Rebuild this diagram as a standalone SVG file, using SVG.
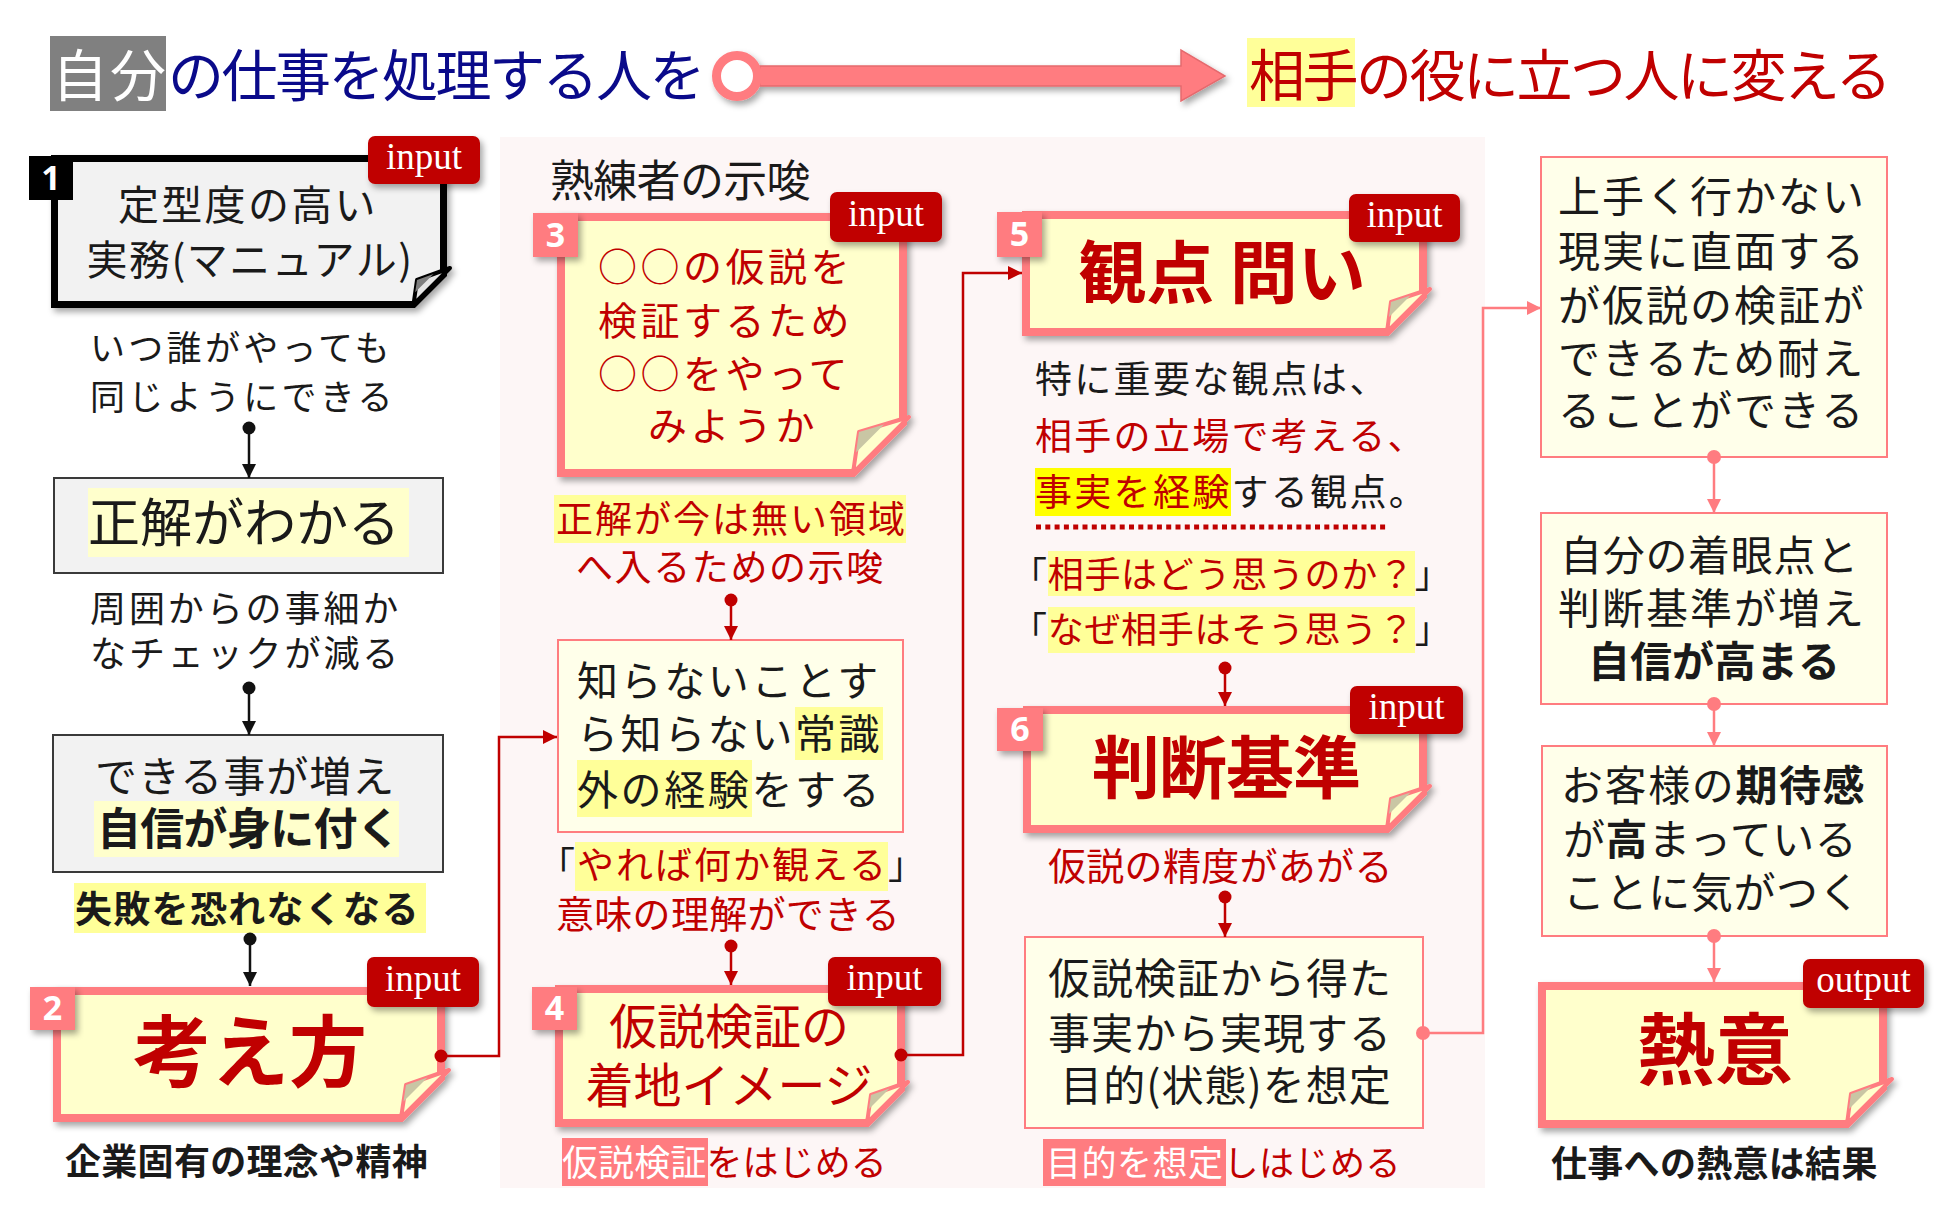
<svg xmlns="http://www.w3.org/2000/svg" width="1950" height="1212" viewBox="0 0 1950 1212">
<defs>
<style>
text{font-family:"Noto Sans CJK JP","Noto Sans CJK SC",sans-serif;}
.b{font-weight:700}
.r{fill:#C00000}
.k{fill:#1A1A1A}
.w{fill:#FFFFFF}
.nv{fill:#0A0A8A}
.m{text-anchor:middle}
.inp{font-family:"Liberation Serif",serif;font-size:37px;fill:#fff;text-anchor:middle}
.num{font-family:"Open Sans","Liberation Sans",sans-serif;font-weight:700;font-size:34px;fill:#fff;text-anchor:middle}
.ny{fill:#FFFFCC;stroke:#FF7C80;stroke-width:8}
.fy{fill:#FFFFCC;stroke:#FF7C80;stroke-width:4;stroke-linejoin:round}
.gy{fill:#C9C6A4}
.pb{fill:#FFFFEA;stroke:#FF7C80;stroke-width:2}
.gb{fill:#F2F2F2;stroke:#3A3A3A;stroke-width:2}
.bdg{fill:#C00000}
.nb{fill:#FF7C80}
.hl{fill:#FFFF99}
.hl2{fill:#FFFFCC}
.hl3{fill:#FFFF00}
.hlp{fill:#FF7C80}
.cb{fill:none;stroke:#111;stroke-width:2.5}
.cr{fill:none;stroke:#C00000;stroke-width:2.5}
.cp{fill:none;stroke:#FF7C80;stroke-width:2.5}
</style>
<filter id="sh" x="-20%" y="-20%" width="140%" height="150%">
<feDropShadow dx="3" dy="4" stdDeviation="3" flood-color="#000" flood-opacity="0.35"/>
</filter>
<marker id="ak" viewBox="0 0 10 10" refX="10" refY="5" markerWidth="14" markerHeight="14" markerUnits="userSpaceOnUse" orient="auto"><path d="M0,0 L10,5 L0,10 z" fill="#111"/></marker>
<marker id="ar" viewBox="0 0 10 10" refX="10" refY="5" markerWidth="14" markerHeight="14" markerUnits="userSpaceOnUse" orient="auto"><path d="M0,0 L10,5 L0,10 z" fill="#C00000"/></marker>
<marker id="ap" viewBox="0 0 10 10" refX="10" refY="5" markerWidth="14" markerHeight="14" markerUnits="userSpaceOnUse" orient="auto"><path d="M0,0 L10,5 L0,10 z" fill="#FF7C80"/></marker>
</defs>

<rect width="1950" height="1212" fill="#FFFFFF"/>

<g id="title">
<rect x="50" y="36" width="116" height="75" fill="#808080"/>
<text y="96" font-size="56"><tspan x="52" class="w" letter-spacing="2">自分</tspan><tspan x="168" class="nv" letter-spacing="-2.5">の仕事を処理する人を</tspan></text>
<g filter="url(#sh)">
<path d="M760,66 H1181 V50 L1225,76 L1181,101 V86 H760 Z" fill="#FF7C80" stroke="#E56A6E" stroke-width="1.5"/>
<circle cx="737" cy="76" r="20.5" fill="#FFFFFF" stroke="#FF7C80" stroke-width="9"/>
</g>
<rect x="1247" y="38" width="108" height="69" fill="#FFFF99"/>
<text x="1249" y="96" font-size="56" letter-spacing="-2.5" class="r">相手の役に立つ人に変える</text>
</g>

<rect id="panel" x="500" y="137" width="985" height="1051" fill="#FDF6F6"/>

<g id="node1">
<g filter="url(#sh)">
<path d="M54.5,158.5 H443.5 V274.5 L413.5,304.5 H54.5 Z" fill="#F2F2F2" stroke="#000" stroke-width="7"/>
<path d="M413.5,304.5 L450,268 L417,280 Z" fill="#E6E6E6" stroke="#000" stroke-width="4" stroke-linejoin="round"/>
<path d="M417,280 L433.5,274 L415.2,292.2 Z" fill="#7F7F7F"/>
</g>
<rect x="29" y="156" width="44" height="44" fill="#000"/>
<text x="51" y="190" class="num">1</text>
<rect x="368" y="136" width="112" height="48" rx="7" class="bdg" filter="url(#sh)"/>
<text x="424" y="169" class="inp">input</text>
<text x="118" y="220" font-size="41" letter-spacing="2.3" class="k">定型度の高い</text>
<text x="250" y="275" font-size="41" letter-spacing="1.5" class="k m">実務(マニュアル)</text>
</g>

<g id="label-itsu">
<text x="90" y="361" font-size="35" letter-spacing="3.3" class="k">いつ誰がやっても</text>
<text x="90" y="410" font-size="35" letter-spacing="3.3" class="k">同じようにできる</text>
</g>

<g id="box-seikai">
<rect x="54" y="478" width="389" height="95" class="gb"/>
<rect x="88" y="488" width="321" height="69" class="hl2"/>
<text x="88" y="542" font-size="52" class="k">正解がわかる</text>
</g>

<g id="label-shuui">
<text x="90" y="622" font-size="36" letter-spacing="2.9" class="k">周囲からの事細か</text>
<text x="90" y="667" font-size="36" letter-spacing="2.9" class="k">なチェックが減る</text>
</g>

<g id="box-dekiru">
<rect x="53" y="735" width="390" height="137" class="gb"/>
<rect x="94" y="801" width="305" height="56" class="hl2"/>
<text x="95" y="792" font-size="42" letter-spacing="1" class="k">できる事が増え</text>
<text x="97" y="845" font-size="44" letter-spacing="-0.7" class="k b">自信が身に付く</text>
</g>

<g id="label-shippai">
<rect x="74" y="883" width="352" height="50" class="hl"/>
<text x="75" y="923" font-size="37" letter-spacing="1.3" class="k b">失敗を恐れなくなる</text>
</g>

<g id="node2">
<g filter="url(#sh)">
<path d="M57,991 H441 V1078 L401,1118 H57 Z" class="ny"/>
<path d="M401,1118 L449,1070 L406,1085 Z" class="fy"/>
<path d="M406,1085 L427.5,1077.5 L403.5,1101.5 Z" class="gy"/>
</g>
<rect x="30" y="987" width="45" height="43" class="nb" filter="url(#sh)"/>
<text x="52.5" y="1020" class="num">2</text>
<rect x="367" y="957" width="112" height="50" rx="7" class="bdg" filter="url(#sh)"/>
<text x="423" y="991" class="inp">input</text>
<text x="250" y="1081" font-size="78" class="r b m">考え方</text>
</g>

<g id="label-kigyo">
<text x="65" y="1175" font-size="36" letter-spacing="0.3" class="k b">企業固有の理念や精神</text>
</g>

<g id="label-jukuren">
<text x="550" y="197" font-size="44" letter-spacing="-0.7" class="k">熟練者の示唆</text>
</g>

<g id="node3">
<g filter="url(#sh)">
<path d="M561,217 H903 V423 L853,473 H561 Z" class="ny"/>
<path d="M853,473 L909,417 L859,432 Z" class="fy"/>
<path d="M859,432 L884,424.5 L856,452.5 Z" class="gy"/>
</g>
<rect x="533" y="213" width="45" height="44" class="nb" filter="url(#sh)"/>
<text x="555.5" y="247" class="num">3</text>
<rect x="830" y="192" width="112" height="50" rx="7" class="bdg" filter="url(#sh)"/>
<text x="886" y="226" class="inp">input</text>
<text x="598" y="281" font-size="39" letter-spacing="3.5" class="r">○○の仮説を</text>
<text x="598" y="335" font-size="39" letter-spacing="3.5" class="r">検証するため</text>
<text x="598" y="388" font-size="39" letter-spacing="3.5" class="r">○○をやって</text>
<text x="733" y="440" font-size="39" letter-spacing="3.5" class="r m">みようか</text>
</g>

<g id="label-seikai-ima">
<rect x="554" y="495" width="352" height="48" class="hl"/>
<text x="556" y="533" font-size="37" letter-spacing="2" class="r">正解が今は無い領域</text>
<text x="576" y="581" font-size="37" letter-spacing="1.6" class="r">へ入るための示唆</text>
</g>

<g id="box-shiranai">
<rect x="558" y="640" width="345" height="192" class="pb"/>
<rect x="795" y="707" width="88" height="53" class="hl"/>
<rect x="577" y="760" width="175" height="57" class="hl"/>
<text x="577" y="696" font-size="41" letter-spacing="2.6" class="k">知らないことす</text>
<text x="577" y="749" font-size="41" letter-spacing="2.6" class="k">ら知らない常識</text>
<text x="577" y="805" font-size="41" letter-spacing="2.6" class="k">外の経験をする</text>
</g>

<g id="label-yareba">
<rect x="575" y="842" width="313" height="49" class="hl"/>
<text x="538" y="879" font-size="37" letter-spacing="2"><tspan class="k">「</tspan><tspan class="r">やれば何か観える</tspan><tspan class="k">」</tspan></text>
<text x="556" y="928" font-size="38" letter-spacing="0.3" class="r">意味の理解ができる</text>
</g>

<g id="node4">
<g filter="url(#sh)">
<path d="M559,989 H901 V1089 L867,1123 H559 Z" class="ny"/>
<path d="M867,1123 L908,1082 L871,1095 Z" class="fy"/>
<path d="M871,1095 L889.5,1088.5 L869,1109 Z" class="gy"/>
</g>
<rect x="532" y="987" width="45" height="43" class="nb" filter="url(#sh)"/>
<text x="554.5" y="1020" class="num">4</text>
<rect x="828" y="957" width="113" height="49" rx="7" class="bdg" filter="url(#sh)"/>
<text x="884.5" y="990" class="inp">input</text>
<text x="729" y="1044" font-size="48" class="r m">仮説検証の</text>
<text x="729" y="1103" font-size="48" class="r m">着地イメージ</text>
</g>

<g id="label-kasetsu-hajimeru">
<rect x="562" y="1138" width="146" height="48" class="hlp"/>
<text x="562" y="1176" font-size="36" letter-spacing="0.1"><tspan class="w">仮説検証</tspan><tspan class="r">をはじめる</tspan></text>
</g>

<g id="node5">
<g filter="url(#sh)">
<path d="M1026,215 H1423 V296 L1387,332 H1026 Z" class="ny"/>
<path d="M1387,332 L1430,289 L1391,302 Z" class="fy"/>
<path d="M1391,302 L1410.5,295.5 L1389,317 Z" class="gy"/>
</g>
<rect x="997" y="212" width="45" height="45" class="nb" filter="url(#sh)"/>
<text x="1019.5" y="246" class="num">5</text>
<rect x="1349" y="194" width="111" height="48" rx="7" class="bdg" filter="url(#sh)"/>
<text x="1404.5" y="227" class="inp">input</text>
<text x="1222" y="298" font-size="68" class="r b m">観点 問い</text>
</g>

<g id="label-kanten">
<text x="1035" y="393" font-size="37" letter-spacing="2.3" class="k">特に重要な観点は、</text>
<text x="1035" y="450" font-size="37" letter-spacing="2.3" class="r">相手の立場で考える、</text>
<rect x="1035" y="468" width="196" height="48" class="hl3"/>
<text x="1035" y="506" font-size="37" letter-spacing="2.3"><tspan class="r">事実を経験</tspan><tspan class="k">する観点。</tspan></text>
<line x1="1036" y1="527" x2="1388" y2="527" stroke="#C00000" stroke-width="5" stroke-dasharray="5 4.3"/>
<rect x="1048" y="551" width="367" height="45" class="hl"/>
<text x="1011" y="588" font-size="36" letter-spacing="0.7"><tspan class="k">「</tspan><tspan class="r">相手はどう思うのか？</tspan><tspan class="k">」</tspan></text>
<rect x="1048" y="607" width="367" height="46" class="hl"/>
<text x="1011" y="643" font-size="36" letter-spacing="0.7"><tspan class="k">「</tspan><tspan class="r">なぜ相手はそう思う？</tspan><tspan class="k">」</tspan></text>
</g>

<g id="node6">
<g filter="url(#sh)">
<path d="M1027,710 H1423 V793 L1387,829 H1027 Z" class="ny"/>
<path d="M1387,829 L1430,786 L1391,799 Z" class="fy"/>
<path d="M1391,799 L1410.5,792.5 L1389,814 Z" class="gy"/>
</g>
<rect x="997" y="708" width="46" height="43" class="nb" filter="url(#sh)"/>
<text x="1020" y="741" class="num">6</text>
<rect x="1350" y="686" width="113" height="48" rx="7" class="bdg" filter="url(#sh)"/>
<text x="1406.5" y="719" class="inp">input</text>
<text x="1226" y="793" font-size="68" letter-spacing="-1" class="r b m">判断基準</text>
</g>

<g id="label-seido">
<text x="1048" y="880" font-size="38" letter-spacing="0.3" class="r">仮説の精度があがる</text>
</g>

<g id="box-mokuteki">
<rect x="1025" y="937" width="398" height="191" class="pb"/>
<text x="1048" y="994" font-size="42" letter-spacing="1" class="k">仮説検証から得た</text>
<text x="1048" y="1049" font-size="42" letter-spacing="1" class="k">事実から実現する</text>
<text x="1226" y="1101" font-size="42" letter-spacing="1" class="k m">目的(状態)を想定</text>
</g>

<g id="label-mokuteki-hajimeru">
<rect x="1043" y="1139" width="183" height="47" class="hlp"/>
<text x="1046" y="1176" font-size="35" letter-spacing="0.5"><tspan class="w">目的を想定</tspan><tspan class="r">しはじめる</tspan></text>
</g>

<g id="box-umaku">
<rect x="1541" y="157" width="346" height="300" class="pb"/>
<text x="1558" y="212" font-size="42" letter-spacing="2" class="k">上手く行かない</text>
<text x="1558" y="267" font-size="42" letter-spacing="2" class="k">現実に直面する</text>
<text x="1558" y="321" font-size="42" letter-spacing="2" class="k">が仮説の検証が</text>
<text x="1558" y="374" font-size="42" letter-spacing="2" class="k">できるため耐え</text>
<text x="1558" y="426" font-size="42" letter-spacing="2" class="k">ることができる</text>
</g>

<g id="box-jishin">
<rect x="1541" y="513" width="346" height="191" class="pb"/>
<text x="1560" y="571" font-size="42" letter-spacing="0.7" class="k">自分の着眼点と</text>
<text x="1558" y="624" font-size="42" letter-spacing="2" class="k">判断基準が増え</text>
<text x="1714" y="677" font-size="42" class="k b m">自信が高まる</text>
</g>

<g id="box-kitai">
<rect x="1542" y="746" width="345" height="190" class="pb"/>
<text x="1561" y="801" font-size="42" letter-spacing="1.6" class="k"><tspan>お客様の</tspan><tspan class="b">期待感</tspan></text>
<text x="1563" y="855" font-size="42" letter-spacing="0.6" class="k"><tspan>が</tspan><tspan class="b">高</tspan><tspan>まっている</tspan></text>
<text x="1563" y="908" font-size="42" letter-spacing="0.6" class="k">ことに気がつく</text>
</g>

<g id="node7">
<g filter="url(#sh)">
<path d="M1542,986 H1883 V1088 L1847,1124 H1542 Z" class="ny"/>
<path d="M1847,1124 L1892,1079 L1851,1094 Z" class="fy"/>
<path d="M1851,1094 L1871.5,1086.5 L1849,1109 Z" class="gy"/>
</g>
<rect x="1803" y="959" width="121" height="49" rx="7" class="bdg" filter="url(#sh)"/>
<text x="1863.5" y="992" class="inp">output</text>
<text x="1715" y="1079" font-size="78" class="r b m">熱意</text>
</g>

<g id="label-netsui">
<text x="1551" y="1177" font-size="36" letter-spacing="0.3" class="k b">仕事への熱意は結果</text>
</g>

<g id="connectors">
<path class="cb" d="M249,428 V478" marker-end="url(#ak)"/>
<circle cx="249" cy="428" r="6.5" fill="#111"/>
<path class="cb" d="M249,688 V735" marker-end="url(#ak)"/>
<circle cx="249" cy="688" r="6.5" fill="#111"/>
<path class="cb" d="M250,939 V986" marker-end="url(#ak)"/>
<circle cx="250" cy="939" r="6.5" fill="#111"/>
<path class="cr" d="M441,1056 H499 V737 H557" marker-end="url(#ar)"/>
<circle cx="441" cy="1056" r="6.5" fill="#C00000"/>
<path class="cr" d="M731,600 V640" marker-end="url(#ar)"/>
<circle cx="731" cy="600" r="6.5" fill="#C00000"/>
<path class="cr" d="M731,946 V985" marker-end="url(#ar)"/>
<circle cx="731" cy="946" r="6.5" fill="#C00000"/>
<path class="cr" d="M901,1055 H963 V273 H1022" marker-end="url(#ar)"/>
<circle cx="901" cy="1055" r="6.5" fill="#C00000"/>
<path class="cr" d="M1225,668 V706" marker-end="url(#ar)"/>
<circle cx="1225" cy="668" r="6.5" fill="#C00000"/>
<path class="cr" d="M1225,897 V937" marker-end="url(#ar)"/>
<circle cx="1225" cy="897" r="6.5" fill="#C00000"/>
<path class="cp" d="M1423,1033 H1483 V308 H1541" marker-end="url(#ap)"/>
<circle cx="1423" cy="1033" r="7" fill="#FF7C80"/>
<path class="cp" d="M1714,457 V513" marker-end="url(#ap)"/>
<circle cx="1714" cy="457" r="7" fill="#FF7C80"/>
<path class="cp" d="M1714,704 V746" marker-end="url(#ap)"/>
<circle cx="1714" cy="704" r="7" fill="#FF7C80"/>
<path class="cp" d="M1714,936 V982" marker-end="url(#ap)"/>
<circle cx="1714" cy="936" r="7" fill="#FF7C80"/>
</g>
</svg>
